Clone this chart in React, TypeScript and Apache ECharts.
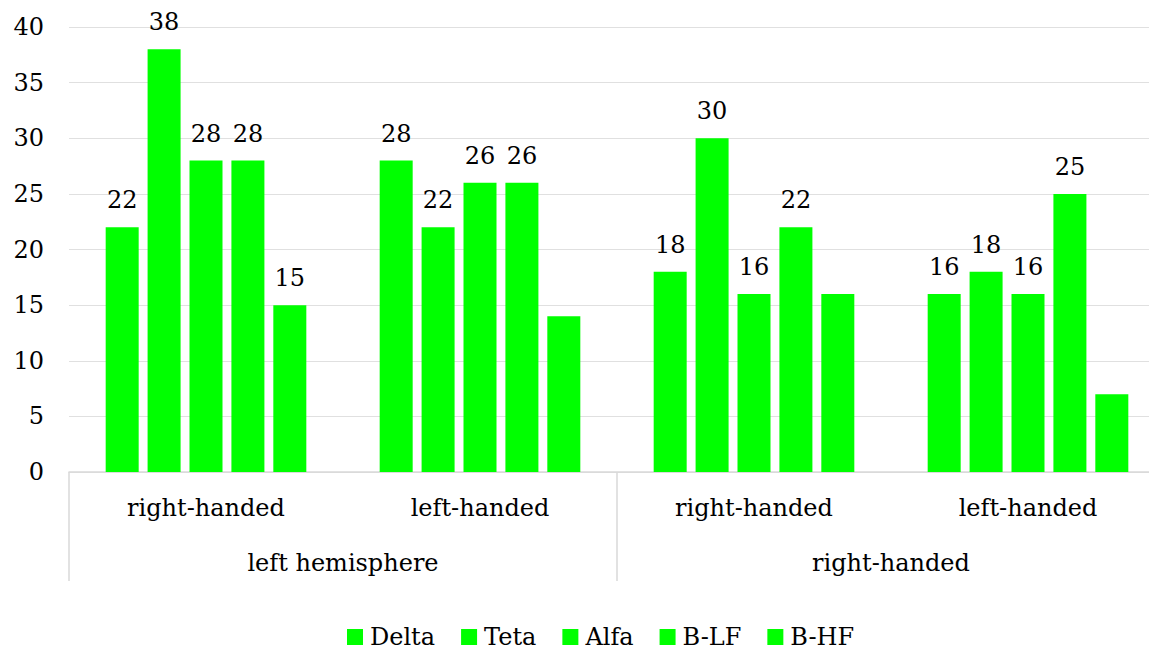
import React, { useEffect, useRef } from "react";
import * as echarts from "echarts";

const innerCategories = ["right-handed", "left-handed", "right-handed", "left-handed"];
const outerCategories = ["left hemisphere", "right-handed"];
const seriesNames = ["Delta", "Teta", "Alfa", "B-LF", "B-HF"];
const delta = [22, 28, 18, 16];
const teta = [38, 22, 30, 18];
const alfa = [28, 26, 16, 16];
const blf = [28, 26, 22, 25];
const bhf = [15, 14, 16, 7];
// which values carry a data label in the reference
const bhfLabelShown = [true, false, false, false];

const FONT = "DejaVu Serif";
const GREEN = "#00ff00";

export default function App() {
  const ref = useRef<HTMLDivElement>(null);
  useEffect(() => {
    if (!ref.current) return;
    const chart = echarts.init(ref.current, null, { renderer: "svg" });
    const allValues = [delta, teta, alfa, blf, bhf];
    const series = seriesNames.map((name, si) => ({
      name,
      type: "bar",
      xAxisIndex: 0,
      barWidth: 33,
      barGap: "27%",
      itemStyle: { color: GREEN },
      label: {
        show: true,
        position: "top",
        distance: 15,
        color: "#000",
        fontFamily: FONT,
        fontSize: 24,
      },
      data: allValues[si].map((v, i) =>
        si === 4 && !bhfLabelShown[i] ? { value: v, label: { show: false } } : v
      ),
    }));
    chart.setOption({
      animation: false,
      textStyle: { fontFamily: FONT },
      grid: { left: 69, right: 0, top: 27, bottom: 183, containLabel: false },
      legend: {
        bottom: 1,
        left: 342,
        icon: "rect",
        itemWidth: 16,
        itemHeight: 16,
        itemGap: 26,
        textStyle: { fontFamily: FONT, fontSize: 24, color: "#000", padding: [0, 0, 0, 2] },
        data: seriesNames,
      },
      xAxis: [
        {
          type: "category",
          data: innerCategories,
          position: "bottom",
          axisLine: { show: true, lineStyle: { color: "#d9d9d9", width: 1.5 } },
          axisTick: { show: false },
          axisLabel: {
            margin: 24,
            fontFamily: FONT,
            fontSize: 24,
            color: "#000",
          },
        },
        {
          type: "category",
          data: outerCategories,
          position: "bottom",
          axisLine: { show: false },
          axisTick: {
            show: true,
            length: 109,
            lineStyle: { color: "#d9d9d9", width: 1.5 },
          },
          axisLabel: {
            margin: 79,
            fontFamily: FONT,
            fontSize: 24,
            color: "#000",
          },
        },
      ],
      yAxis: {
        type: "value",
        min: 0,
        max: 40,
        interval: 5,
        axisLine: { show: false },
        axisTick: { show: false },
        splitLine: { show: true, lineStyle: { color: "#e0e0e0", width: 1 } },
        axisLabel: {
          margin: 25,
          fontFamily: FONT,
          fontSize: 24,
          color: "#000",
        },
      },
      series,
    });
    return () => chart.dispose();
  }, []);
  return (
    <div style={{ width: 1157, height: 655, margin: -8, overflow: "hidden" }}>
      <div ref={ref} style={{ width: 1165, height: 655 }} />
    </div>
  );
}
